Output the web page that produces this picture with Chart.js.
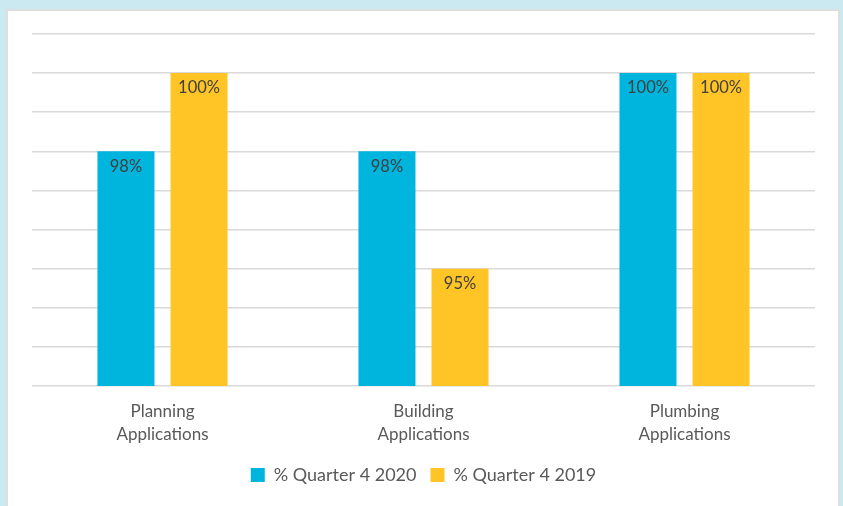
<!DOCTYPE html>
<html>
<head>
<meta charset="utf-8">
<script src="https://cdn.jsdelivr.net/npm/chart.js@4.4.0/dist/chart.umd.min.js"></script>
<style>
  html, body { margin: 0; padding: 0; }
  body { background: #cbe9f1; width: 843px; height: 506px; overflow: hidden; position: relative; }
  #card {
    position: absolute; left: 6px; top: 9px; width: 830px; height: 510px;
    background: #fff; border: 2px solid #dedede; border-bottom: none;
  }
  #chartWrap { position: absolute; left: 0; top: 0; width: 830px; height: 495px; }
</style>
</head>
<body>
<div id="card">
  <div id="chartWrap"><canvas id="myChart"></canvas></div>
</div>
<script>
'use strict';

// categories and series
var categories = [['Planning', 'Applications'], ['Building', 'Applications'], ['Plumbing', 'Applications']];
var q4_2020 = [98, 98, 100];
var q4_2019 = [100, 95, 100];
var seriesNames = ['% Quarter 4 2020', '% Quarter 4 2019'];

var FONT = "Lato, 'Open Sans', sans-serif";

// prints the value near the top, inside each bar
var valueLabels = {
  id: 'valueLabels',
  afterDatasetsDraw: function(chart) {
    var ctx = chart.ctx;
    ctx.save();
    ctx.font = '16.5px ' + FONT;
    ctx.fillStyle = '#404040';
    ctx.textAlign = 'center';
    ctx.textBaseline = 'middle';
    chart.data.datasets.forEach(function(ds, i) {
      chart.getDatasetMeta(i).data.forEach(function(bar, j) {
        ctx.fillText(ds.data[j] + '%', bar.x, bar.y + 15);
      });
    });
    ctx.restore();
  }
};

var ctx = document.getElementById('myChart');
var myChart = new Chart(ctx, {
  type: 'bar',
  data: {
    labels: categories,
    datasets: [{
      label: seriesNames[0],
      data: q4_2020,
      backgroundColor: '#00b5dd',
      categoryPercentage: 0.56,
      barPercentage: 0.78
    }, {
      label: seriesNames[1],
      data: q4_2019,
      backgroundColor: '#ffc425',
      categoryPercentage: 0.56,
      barPercentage: 0.78
    }]
  },
  options: {
    responsive: true,
    maintainAspectRatio: false,
    animation: false,
    layout: { padding: { left: 24, right: 23, top: 23, bottom: 12 } },
    scales: {
      x: {
        grid: { display: false },
        border: { display: false },
        ticks: { color: '#595959', font: { family: FONT, size: 17, lineHeight: 1.35 }, padding: 6 }
      },
      y: {
        min: 92,
        max: 101,
        ticks: { display: false, stepSize: 1 },
        grid: { color: '#d9d9d9', lineWidth: 1.5, drawTicks: false },
        border: { display: false }
      }
    },
    plugins: {
      tooltip: { enabled: false },
      legend: {
        position: 'bottom',
        labels: {
          color: '#595959',
          font: { family: FONT, size: 18 },
          boxWidth: 14,
          boxHeight: 14,
          padding: 14
        }
      }
    }
  },
  plugins: [valueLabels]
});
</script>
</body>
</html>
